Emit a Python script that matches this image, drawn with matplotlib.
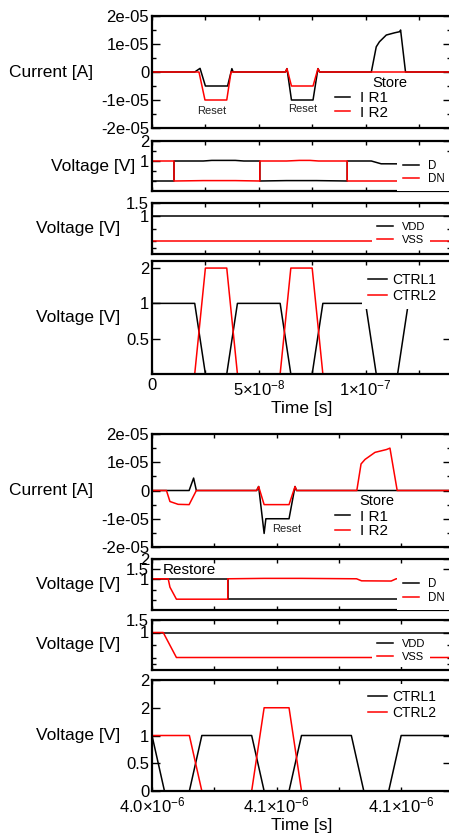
import matplotlib.pyplot as plt

plt.rcParams['font.family'] = ['Liberation Sans', 'DejaVu Sans']
plt.rcParams['mathtext.fontset'] = 'custom'
plt.rcParams['mathtext.rm'] = 'Liberation Sans'
plt.rcParams['mathtext.it'] = 'Liberation Sans:italic'
plt.rcParams['mathtext.bf'] = 'Liberation Sans:bold'

# ---------------- first run: 0 .. 140 ns ----------------
t_r1_a = [0, 2.0e-8, 2.25e-8, 2.5e-8, 3.54e-8, 3.74e-8, 3.8e-8, 6.25e-8, 6.32e-8, 6.53e-8,
          7.54e-8, 7.77e-8, 7.85e-8, 1.027e-7, 1.05e-7, 1.065e-7, 1.097e-7, 1.136e-7,
          1.16e-7, 1.164e-7, 1.187e-7, 1.4e-7]
i_r1_a = [0, 0, 1.3e-6, -5e-6, -5e-6, 1.2e-6, 0, 0, 1.2e-6, -1e-5,
          -1e-5, 1.2e-6, 0, 0, 9e-6, 1.08e-5, 1.32e-5, 1.4e-5,
          1.44e-5, 1.5e-5, 0, 0]
t_r2_a = [0, 2.2e-8, 2.48e-8, 3.5e-8, 3.7e-8, 6.25e-8, 6.32e-8, 6.53e-8, 7.54e-8, 7.77e-8,
          7.85e-8, 1.4e-7]
i_r2_a = [0, 0, -1e-5, -1e-5, 0, 0, 1.2e-6, -5e-6, -5e-6, 1.2e-6,
          0, 0]

t_d_a = [0, 1.03e-8, 1.03e-8, 2.4e-8, 2.8e-8, 3.9e-8, 4.3e-8, 5.05e-8, 5.05e-8, 6.3e-8,
         7.7e-8, 9.14e-8, 9.14e-8, 1.027e-7, 1.073e-7, 1.4e-7]
v_d_a = [0, 0, 1, 1, 1.03, 1.03, 1, 1, 0, 0.02,
         0.02, 0, 1, 1, 0.86, 0.85]
t_dn_a = [0, 1.03e-8, 1.03e-8, 2.4e-8, 3.9e-8, 5.05e-8, 5.05e-8, 6.3e-8, 6.9e-8, 7.4e-8,
          7.8e-8, 9.14e-8, 9.14e-8, 1.4e-7]
v_dn_a = [1, 1, 0, 0.02, 0.02, 0, 1, 1, 1.03, 1.03,
          1, 1, 0, 0]

t_sup_a = [0, 1.4e-7]
v_vdd_a = [1, 1]
v_vss_a = [0, 0]

t_c1_a = [0, 2e-8, 2.5e-8, 3.5e-8, 4e-8, 6e-8, 6.5e-8, 7.5e-8, 8e-8, 1e-7, 1.05e-7, 1.15e-7, 1.2e-7, 1.4e-7]
v_c1_a = [1, 1, 0, 0, 1, 1, 0, 0, 1, 1, 0, 0, 1, 1]
t_c2_a = [0, 2e-8, 2.5e-8, 3.5e-8, 4e-8, 6e-8, 6.5e-8, 7.5e-8, 8e-8, 1.4e-7]
v_c2_a = [0, 0, 1.5, 1.5, 0, 0, 1.5, 1.5, 0, 0]

# ---------------- second run: 4.0 .. 4.12 us ----------------
t_r1_b = [4.0e-6, 4.0149e-6, 4.0167e-6, 4.0178e-6, 4.042e-6, 4.0428e-6, 4.045e-6, 4.0457e-6,
          4.055e-6, 4.0574e-6, 4.058e-6, 4.12e-6]
i_r1_b = [0, 0, 4.4e-6, 0, 0, 1.4e-6, -1.52e-5, -1e-5,
          -1e-5, 1.4e-6, 0, 0]
t_r2_b = [4.0e-6, 4.0058e-6, 4.0072e-6, 4.0105e-6, 4.0149e-6, 4.0178e-6, 4.042e-6, 4.0428e-6,
          4.045e-6, 4.055e-6, 4.0574e-6, 4.058e-6, 4.0822e-6, 4.0839e-6, 4.0855e-6, 4.0895e-6,
          4.0941e-6, 4.0955e-6, 4.0984e-6, 4.12e-6]
i_r2_b = [0, 0, -3.9e-6, -4.9e-6, -5e-6, 0, 0, 1.4e-6,
          -5e-6, -5e-6, 1.4e-6, 0, 0, 9.4e-6, 1.1e-5, 1.35e-5,
          1.45e-5, 1.5e-5, 0, 0]

t_d_b = [4.0e-6, 4.0304e-6, 4.0304e-6, 4.12e-6]
v_d_b = [1.03, 1.03, 0.03, 0.03]
t_dn_b = [4.0e-6, 4.0065e-6, 4.0072e-6, 4.0098e-6, 4.0304e-6, 4.0304e-6, 4.045e-6, 4.06e-6,
          4.0821e-6, 4.0841e-6, 4.096e-6, 4.098e-6, 4.12e-6]
v_dn_b = [1.03, 1.03, 0.62, 0.03, 0.03, 1.03, 1.05, 1.05,
          1.03, 0.93, 0.92, 1.03, 1.03]

t_vdd_b = [4.0e-6, 4.12e-6]
v_vdd_b = [1, 1]
t_vss_b = [4.0e-6, 4.0045e-6, 4.0098e-6, 4.12e-6]
v_vss_b = [1, 1, 0, 0]

t_c1_b = [4.0e-6, 4.005e-6, 4.015e-6, 4.02e-6, 4.04e-6, 4.045e-6, 4.055e-6, 4.06e-6,
          4.08e-6, 4.085e-6, 4.095e-6, 4.1e-6, 4.12e-6]
v_c1_b = [1, 0, 0, 1, 1, 0, 0, 1, 1, 0, 0, 1, 1]
t_c2_b = [4.0e-6, 4.015e-6, 4.02e-6, 4.04e-6, 4.045e-6, 4.055e-6, 4.06e-6, 4.12e-6]
v_c2_b = [1, 1, 0, 0, 1.5, 1.5, 0, 0]

# axis ticks
xt_a = [0, 5e-8, 1e-7]
xt_a_lab = ['0', r'$5{\times}10^{-8}$', r'$1{\times}10^{-7}$']
xt_a_min = [2.5e-8, 7.5e-8, 1.25e-7]
xt_b = [4.0e-6, 4.05e-6, 4.1e-6]
xt_b_lab = [r'$4.0{\times}10^{-6}$', r'$4.1{\times}10^{-6}$', r'$4.1{\times}10^{-6}$']
xt_b_min = [4.025e-6, 4.075e-6]

cur_t = [-2e-5, -1e-5, 0, 1e-5, 2e-5]
cur_lab = ['-2e-05', '-1e-05', '0', '1e-05', '2e-05']
cur_min = [-1.5e-5, -5e-6, 5e-6, 1.5e-5]

BLACK = '#000000'
RED = '#ff0000'
LW = 1.1

W, H = 449, 834
fig = plt.figure(figsize=(W / 100, H / 100), dpi=100)


def panel(top, bottom):
    ax = fig.add_axes([152 / W, 1 - bottom / H, 299 / W, (bottom - top) / H])
    for s in ax.spines.values():
        s.set_linewidth(1.6)
    ax.tick_params(which='both', direction='in', top=True, right=True, width=1.0, labelsize=12)
    ax.tick_params(axis='y', which='major', length=5.5, pad=2)
    ax.tick_params(axis='y', which='minor', length=2.8)
    ax.tick_params(axis='x', which='both', length=3, pad=3)
    return ax


def ylab(ax, x):
    ax.set_ylabel('Voltage [V]' if x > -0.15 else 'Current [A]', rotation=0,
                  ha='right', va='center', fontsize=12.5)
    ax.yaxis.set_label_coords(x, 0.5)


box = dict(loc='upper left', borderaxespad=0, fancybox=False, framealpha=1,
           edgecolor='none', facecolor='white')


def group(tops, t0, t1, xt, xt_lab, xt_min, d):
    a1 = panel(*tops[0])
    a2 = panel(*tops[1])
    a3 = panel(*tops[2])
    a4 = panel(*tops[3])
    for ax in (a1, a2, a3, a4):
        ax.set_xlim(t0, t1)
        ax.set_xticks(xt, xt_lab)
        ax.set_xticks(xt_min, minor=True)
    for ax in (a1, a2, a3):
        ax.tick_params(axis='x', labelbottom=False)

    # currents
    a1.plot(d['t_r1'], d['i_r1'], color=BLACK, lw=LW, label='I R1')
    a1.plot(d['t_r2'], d['i_r2'], color=RED, lw=LW, label='I R2')
    a1.set_ylim(-2e-5, 2e-5)
    a1.set_yticks(cur_t, cur_lab)
    a1.set_yticks(cur_min, minor=True)
    ylab(a1, -0.197)
    a1.legend(bbox_to_anchor=(0.602, 0.357), fontsize=11, handlelength=1.0,
              handletextpad=0.65, labelspacing=0.05, borderpad=0.2, **box)

    # D / DN
    a2.plot(d['t_d'], d['v_d'], color=BLACK, lw=LW, label='D')
    a2.plot(d['t_dn'], d['v_dn'], color=RED, lw=LW, label='DN')
    a2.set_ylim(-0.5, 2)
    a2.set_yticks(d['dy'], d['dy_lab'])
    a2.set_yticks(d['dy_min'], minor=True)
    ylab(a2, d['dlab_x'])
    a2.legend(bbox_to_anchor=(0.819, 0.74), fontsize=8.3, handlelength=1.45,
              handletextpad=0.72, labelspacing=0.15, borderpad=0.5, **box)

    # supplies
    a3.plot(d['t_vdd'], d['v_vdd'], color=BLACK, lw=LW, label='VDD')
    a3.plot(d['t_vss'], d['v_vss'], color=RED, lw=LW, label='VSS')
    a3.set_ylim(-0.5, 1.5)
    a3.set_yticks([1, 1.5], ['1', '1.5'])
    a3.set_yticks([-0.25, 0, 0.5], minor=True)
    ylab(a3, -0.107)
    a3.legend(bbox_to_anchor=(0.736, 0.729), fontsize=8, handlelength=1.45,
              handletextpad=0.8, labelspacing=0.32, borderpad=0.45, **box)

    # controls
    a4.plot(d['t_c1'], d['v_c1'], color=BLACK, lw=LW, label='CTRL1')
    a4.plot(d['t_c2'], d['v_c2'], color=RED, lw=LW, label='CTRL2')
    a4.set_ylim(0, d['cy_max'])
    a4.set_yticks(d['cy'], d['cy_lab'])
    ylab(a4, -0.107)
    a4.legend(bbox_to_anchor=(0.702, d['cleg_y'], 0.31, 0), mode='expand', fontsize=10,
              handlelength=1.37, handletextpad=0.36, labelspacing=0.2, borderpad=0.43, **box)
    a4.set_xlabel('Time [s]', fontsize=12.5, labelpad=2)
    return a1, a2, a3, a4


g1 = group([(16, 128), (141, 191), (203, 254), (261, 374)], 0, 1.4e-7,
           xt_a, xt_a_lab, xt_a_min,
           dict(t_r1=t_r1_a, i_r1=i_r1_a, t_r2=t_r2_a, i_r2=i_r2_a,
                t_d=t_d_a, v_d=v_d_a, t_dn=t_dn_a, v_dn=v_dn_a,
                dy=[1, 2], dy_lab=['1', '2'], dy_min=[0, 0.5, 1.5], dlab_x=-0.057,
                t_vdd=t_sup_a, v_vdd=v_vdd_a, t_vss=t_sup_a, v_vss=v_vss_a,
                t_c1=t_c1_a, v_c1=v_c1_a, t_c2=t_c2_a, v_c2=v_c2_a,
                cy_max=1.6, cy=[0.5, 1, 1.5], cy_lab=['0.5', '1', '2'], cleg_y=0.951))

g2 = group([(434, 547), (559, 610), (620, 670), (680, 791)], 4.0e-6, 4.12e-6,
           xt_b, xt_b_lab, xt_b_min,
           dict(t_r1=t_r1_b, i_r1=i_r1_b, t_r2=t_r2_b, i_r2=i_r2_b,
                t_d=t_d_b, v_d=v_d_b, t_dn=t_dn_b, v_dn=v_dn_b,
                dy=[1, 1.5, 2], dy_lab=['1', '1.5', '2'], dy_min=[0, 0.5], dlab_x=-0.107,
                t_vdd=t_vdd_b, v_vdd=v_vdd_b, t_vss=t_vss_b, v_vss=v_vss_b,
                t_c1=t_c1_b, v_c1=v_c1_b, t_c2=t_c2_b, v_c2=v_c2_b,
                cy_max=2.0, cy=[0, 0.5, 1, 1.5, 2], cy_lab=['0', '0.5', '1', '2', '2'],
                cleg_y=0.968))

# annotations
g1[0].text(2.79e-8, -1.39e-5, 'Reset', fontsize=8, ha='center', va='center', color='#222222')
g1[0].text(7.04e-8, -1.33e-5, 'Reset', fontsize=8, ha='center', va='center', color='#222222')
g1[0].text(1.115e-7, -0.38e-5, 'Store', fontsize=10.5, ha='center', va='center')
g2[0].text(4.0542e-6, -1.37e-5, 'Reset', fontsize=8, ha='center', va='center', color='#222222')
g2[0].text(4.0902e-6, -0.36e-5, 'Store', fontsize=10.5, ha='center', va='center')
g2[1].text(4.0044e-6, 1.45, 'Restore', fontsize=11, ha='left', va='center')

fig.savefig('out.png', dpi=100)
